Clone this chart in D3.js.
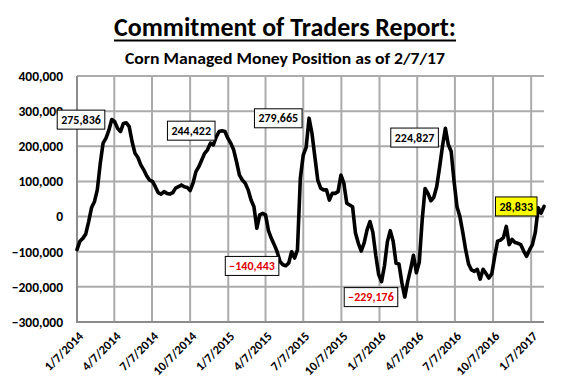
<!DOCTYPE html>
<html>
<head>
<meta charset="utf-8">
<script src="https://cdn.jsdelivr.net/npm/d3@7"></script>
<style>
  body { margin: 0; background: #fff; }
  svg text { font-family: Carlito, Lato, "Open Sans", sans-serif; font-weight: bold; }
</style>
</head>
<body>
<div id="chart"></div>
<script>
// weekly COT data, first report date
const firstWeek = "2014-01-07";
// managed money net position (thousand contracts), one value per week
const positionsK = [
  -94, -70, -62, -50, -15, 25, 42, 76, 150, 209, 223, 246, 276, 270, 251, 242,
  265, 267, 256, 213, 180, 168, 147, 133, 116, 104, 100, 85, 68, 64, 71, 66,
  64, 68, 81, 85, 90, 85, 83, 74, 95, 128, 142, 161, 180, 190, 209, 204,
  227, 242, 244, 242, 223, 209, 190, 156, 118, 104, 95, 76, 47, 28, -33, 5,
  9, 5, -40, -62, -80, -100, -128, -137, -140, -132, -100, -118, -95, 110, 175, 197,
  280, 237, 170, 104, 81, 76, 76, 47, 66, 66, 71, 118, 95, 38, 33, 28,
  -47, -76, -98, -75, -38, -14, -45, -110, -165, -185, -140, -72, -40, -70, -133, -135,
  -188, -229, -185, -150, -110, -160, -130, -10, 80, 66, 45, 55, 85, 140, 200, 251,
  205, 185, 100, 28, 0, -45, -95, -135, -152, -156, -150, -178, -150, -162, -175, -163,
  -114, -70, -67, -60, -28, -80, -65, -74, -76, -80, -98, -113, -95, -80, -45, 25,
  10, 28.833
];
const tickDates = [
  "2014-01-07", "2014-04-07", "2014-07-07", "2014-10-07",
  "2015-01-07", "2015-04-07", "2015-07-07", "2015-10-07",
  "2016-01-07", "2016-04-07", "2016-07-07", "2016-10-07", "2017-01-07"
];
const yTicks = [-300000, -200000, -100000, 0, 100000, 200000, 300000, 400000];

// callouts: week index of the point and the value printed in the box
const labelWeeks = [12, 50, 80, 127, 72, 113, 161];
const labelValues = [275836, 244422, 279665, 224827, -140443, -229176, 28833];

const width = 570, height = 385;
const plot = { left: 77, right: 544, top: 76, bottom: 322 };

const parse = d3.timeParse("%Y-%m-%d");
const start = parse(firstWeek);
const data = positionsK.map((v, i) => ({ date: d3.timeDay.offset(start, 7 * i), value: v * 1000 }));

const svg = d3.select("#chart")
    .append("svg")
    .attr("width", width)
    .attr("height", height);

const x = d3.scaleTime()
    .domain([start, data[data.length - 1].date])
    .range([plot.left, plot.right]);

const y = d3.scaleLinear()
    .domain([-300000, 400000])
    .range([plot.bottom, plot.top]);

// Titles
svg.append("text")
    .attr("x", 285)
    .attr("y", 36)
    .attr("text-anchor", "middle")
    .attr("font-size", 26)
    .attr("textLength", 342)
    .attr("lengthAdjust", "spacingAndGlyphs")
    .text("Commitment of Traders Report:");

svg.append("line")
    .attr("x1", 114).attr("x2", 456)
    .attr("y1", 40.5).attr("y2", 40.5)
    .attr("stroke", "black")
    .attr("stroke-width", 2.2);

svg.append("text")
    .attr("x", 285)
    .attr("y", 64)
    .attr("text-anchor", "middle")
    .attr("font-size", 16.5)
    .attr("textLength", 320)
    .attr("lengthAdjust", "spacingAndGlyphs")
    .text("Corn Managed Money Position as of 2/7/17");

// Gridlines
const grid = svg.append("g");
grid.selectAll(".hgrid")
    .data(yTicks)
    .enter()
    .append("line")
    .attr("x1", plot.left)
    .attr("x2", plot.right)
    .attr("y1", d => y(d))
    .attr("y2", d => y(d))
    .attr("stroke", "#ababab")
    .attr("stroke-width", 2);

grid.selectAll(".vgrid")
    .data(tickDates.map(parse))
    .enter()
    .append("line")
    .attr("x1", d => x(d))
    .attr("x2", d => x(d))
    .attr("y1", plot.top)
    .attr("y2", plot.bottom)
    .attr("stroke", "#ababab")
    .attr("stroke-width", 2);

// Axis lines
svg.append("line")
    .attr("x1", plot.left).attr("x2", plot.left)
    .attr("y1", plot.top).attr("y2", plot.bottom + 1)
    .attr("stroke", "#8c8c8c").attr("stroke-width", 2);
svg.append("line")
    .attr("x1", plot.left - 1).attr("x2", plot.right)
    .attr("y1", plot.bottom).attr("y2", plot.bottom)
    .attr("stroke", "#8c8c8c").attr("stroke-width", 2);

// Y axis labels
const yAxis = d3.axisLeft(y)
    .tickValues(yTicks)
    .tickSize(0)
    .tickPadding(14)
    .tickFormat(d3.format(",d"));
const yg = svg.append("g")
    .attr("transform", `translate(${plot.left},0)`)
    .call(yAxis);
yg.select(".domain").remove();
yg.selectAll("text")
    .attr("font-size", 13.5)
    .attr("fill", "black");

// X axis labels, rotated
const fmtDate = d => `${d.getMonth() + 1}/${d.getDate()}/${d.getFullYear()}`;
svg.append("g")
    .selectAll("text")
    .data(tickDates.map(parse))
    .enter()
    .append("text")
    .attr("transform", d => `translate(${x(d) + 4},${plot.bottom + 12}) rotate(-45)`)
    .attr("text-anchor", "end")
    .attr("dy", "0.35em")
    .attr("font-size", 12.5)
    .text(fmtDate);

// The position line
const line = d3.line()
    .x(d => x(d.date))
    .y(d => y(d.value));

svg.append("path")
    .datum(data)
    .attr("d", line)
    .attr("fill", "none")
    .attr("stroke", "black")
    .attr("stroke-width", 3.6)
    .attr("stroke-linejoin", "round")
    .attr("stroke-linecap", "round");

// Callout boxes to the left of each point
const fmtNum = d3.format(",d");
for (let i = 0; i < labelWeeks.length; i++) {
    const pt = data[labelWeeks[i]];
    const val = labelValues[i];
    const isLast = labelWeeks[i] == data.length - 1;
    const g = svg.append("g");
    const rect = g.append("rect")
        .attr("fill", isLast ? "#ffff00" : "white")
        .attr("stroke", "black")
        .attr("stroke-width", 1);
    const t = g.append("text")
        .attr("font-size", 12)
        .attr("fill", val < 0 ? "#e00000" : "black")
        .attr("text-anchor", "middle")
        .attr("dy", "0.35em")
        .text(fmtNum(val));
    const w = t.node().getComputedTextLength() + 8;
    const right = x(pt.date) - 7;
    const cy = y(val);
    rect.attr("x", right - w).attr("y", cy - 9.5).attr("width", w).attr("height", 19);
    t.attr("x", right - w / 2).attr("y", cy);
}
</script>
</body>
</html>
